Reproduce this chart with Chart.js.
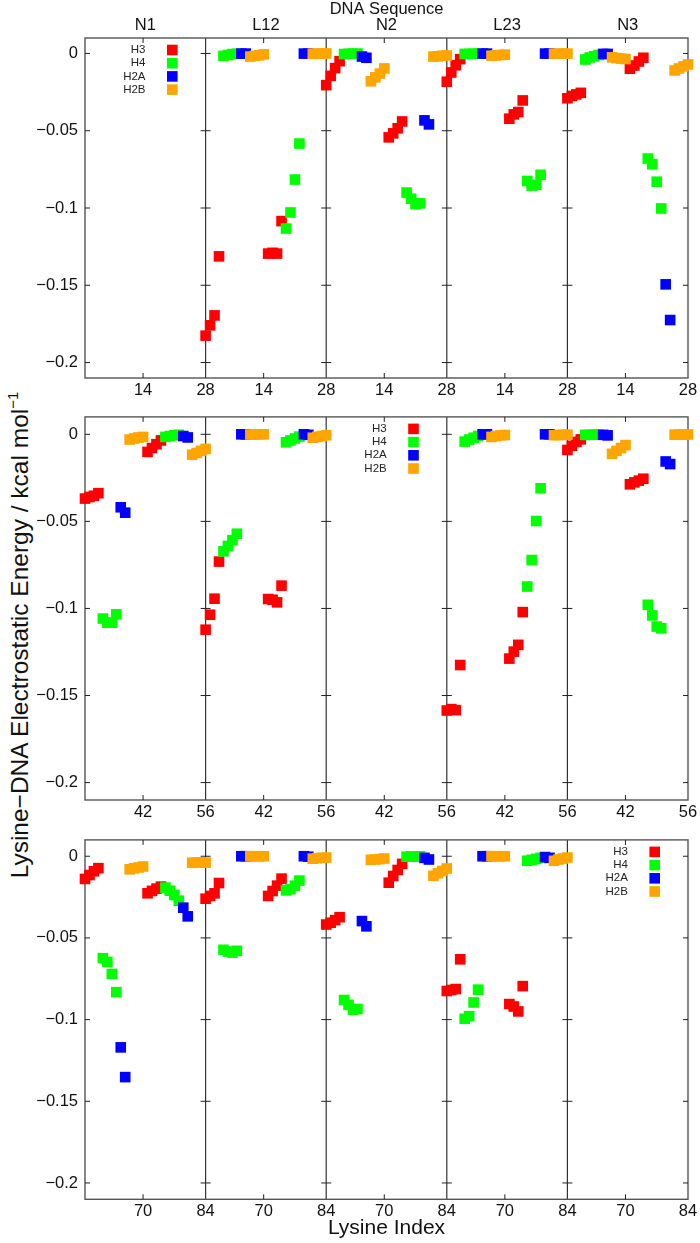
<!DOCTYPE html>
<html>
<head>
<meta charset="utf-8">
<script src="https://cdn.jsdelivr.net/npm/chart.js@4.4.0/dist/chart.umd.min.js"></script>
<style>
  body { margin: 0; background: #fff; width: 700px; height: 1243px; position: relative; overflow: hidden;
         font-family: "Liberation Sans", Arial, sans-serif; }
  .row { position: absolute; left: 0; width: 700px; }
  #ytitle { position: absolute; left: 20px; top: 635px; transform: translate(-50%, -50%) rotate(-90deg);
            white-space: nowrap; font-size: 24.5px; color: #111; }
  #ytitle sup { font-size: 15px; vertical-align: 10px; line-height: 0; }
</style>
</head>
<body>
<div id="ytitle">Lysine&minus;DNA Electrostatic Energy / kcal mol<sup>&minus;1</sup></div>
<script>
const regions = ['N1', 'L12', 'N2', 'L23', 'N3'];
const rowStarts = [1, 29, 57];            // first lysine of each row of panels
const legendRegion = ['N1', 'N2', 'N3'];  // empty panel that holds the key
const yTicks = [0, -0.05, -0.1, -0.15, -0.2];
const seriesNames = ['H3', 'H4', 'H2A', 'H2B'];
const seriesColors = ['#ff0000', '#00ff00', '#0000ff', '#ffa500'];

// [region, first lysine, energies of consecutive lysines]
const H3 = [
  ['L12', 1, [-0.1826, -0.1759, -0.1695, -0.1313]], ['L12', 15, [-0.1295, -0.129, -0.1295, -0.1085]],
  ['N2', 1, [-0.0205, -0.0145, -0.0095, -0.005]], ['N2', 15, [-0.0543, -0.0517, -0.0484, -0.044]],
  ['L23', 1, [-0.0183, -0.0123, -0.0076, -0.0037]], ['L23', 15, [-0.0422, -0.0394, -0.0379, -0.0304]],
  ['N3', 1, [-0.029, -0.0275, -0.0265, -0.0255]], ['N3', 15, [-0.0099, -0.0078, -0.0052, -0.0028]],
  ['N1', 29, [-0.0369, -0.036, -0.0353, -0.0338]], ['N1', 43, [-0.0101, -0.0079, -0.0057, -0.0035]],
  ['L12', 29, [-0.1122, -0.1036, -0.0944, -0.0731]], ['L12', 43, [-0.0946, -0.095, -0.0965, -0.0869]],
  ['L23', 29, [-0.1586, -0.1578, -0.1584, -0.1325]], ['L23', 43, [-0.1288, -0.1248, -0.1209, -0.1021]],
  ['N3', 29, [-0.009, -0.0066, -0.0044, -0.0029]], ['N3', 43, [-0.0287, -0.0276, -0.0266, -0.0255]],
  ['N1', 57, [-0.0139, -0.0115, -0.0092, -0.0073]], ['N1', 71, [-0.0227, -0.0212, -0.0198, -0.0186]],
  ['L12', 57, [-0.026, -0.0243, -0.0227, -0.0164]], ['L12', 71, [-0.0243, -0.0213, -0.018, -0.0137]],
  ['N2', 57, [-0.0418, -0.0407, -0.0391, -0.0373]], ['N2', 71, [-0.0162, -0.0121, -0.0084, -0.0047]],
  ['L23', 57, [-0.0825, -0.0819, -0.0813, -0.0631]], ['L23', 71, [-0.0905, -0.092, -0.095, -0.0795]]
];
const H4 = [
  ['L12', 5, [-0.0016, -0.001, -0.0004, -0.0002]], ['L12', 19, [-0.1133, -0.1029, -0.0816, -0.0583]],
  ['N2', 5, [-0.0004, -0.0002, -0.0001, -0.0001]], ['N2', 19, [-0.09, -0.094, -0.0975, -0.097]],
  ['L23', 5, [-0.0003, -0.0003, -0.0002, -0.0001]], ['L23', 19, [-0.0825, -0.0855, -0.085, -0.0785]],
  ['N3', 5, [-0.0039, -0.0026, -0.0018, -0.001]], ['N3', 19, [-0.068, -0.0717, -0.083, -0.1003]],
  ['N1', 33, [-0.1058, -0.1082, -0.1082, -0.1034]], ['N1', 47, [-0.0015, -0.001, -0.0005, -0.0003]],
  ['L12', 33, [-0.0672, -0.0641, -0.0608, -0.0571]], ['L12', 47, [-0.0046, -0.0035, -0.0024, -0.0013]],
  ['L23', 33, [-0.0042, -0.003, -0.002, -0.001]], ['L23', 47, [-0.0874, -0.0722, -0.0498, -0.031]],
  ['N3', 33, [-0.0003, -0.0003, -0.0002, -0.0002]], ['N3', 47, [-0.0979, -0.104, -0.1104, -0.1114]],
  ['N1', 61, [-0.0624, -0.0647, -0.0721, -0.0832]], ['N1', 75, [-0.0192, -0.0211, -0.0237, -0.0272]],
  ['L12', 61, [-0.0573, -0.0584, -0.059, -0.0579]], ['L12', 75, [-0.0209, -0.0202, -0.018, -0.0149]],
  ['N2', 61, [-0.088, -0.091, -0.094, -0.0935]], ['N2', 75, [-0.0003, -0.0002, -0.0001, -0.0001]],
  ['L23', 61, [-0.0995, -0.0979, -0.0895, -0.0817]], ['L23', 75, [-0.0028, -0.0022, -0.0016, -0.001]]
];
const H2A = [
  ['L12', 9, [-0.0001, -0.0001]], ['L12', 23, [-0.0001, -0.0001]],
  ['N2', 9, [-0.002, -0.0028]], ['N2', 23, [-0.0433, -0.0459]],
  ['L23', 9, [-0.0001, -0.0001]], ['L23', 23, [-0.0001, -0.0001]],
  ['N3', 9, [-0.0003, -0.0003]], ['N3', 23, [-0.1494, -0.1725]],
  ['N1', 37, [-0.0419, -0.045]], ['N1', 51, [-0.001, -0.0018]],
  ['L12', 37, [0, 0]], ['L12', 51, [0, -0.0003]],
  ['L23', 37, [0, 0]], ['L23', 51, [0, 0]],
  ['N3', 37, [-0.0003, -0.0006]], ['N3', 51, [-0.0156, -0.0171]],
  ['N1', 65, [-0.117, -0.1352]], ['N1', 79, [-0.0315, -0.0368]],
  ['L12', 65, [0, 0]], ['L12', 79, [0, -0.0003]],
  ['N2', 65, [-0.0397, -0.0429]], ['N2', 79, [-0.001, -0.002]],
  ['L23', 65, [0, 0]], ['L23', 79, [-0.0005, -0.001]]
];
const H2B = [
  ['L12', 11, [-0.002, -0.0016, -0.0012, -0.0006]], ['L12', 25, [-0.0002, -0.0001, -0.0001, 0]],
  ['N2', 11, [-0.018, -0.0155, -0.013, -0.0097]], ['N2', 25, [-0.002, -0.0018, -0.0015, -0.0013]],
  ['L23', 11, [-0.0015, -0.0012, -0.001, -0.0008]], ['L23', 25, [-0.0002, -0.0002, -0.0001, -0.0001]],
  ['N3', 11, [-0.0025, -0.003, -0.0033, -0.0036]], ['N3', 25, [-0.011, -0.0097, -0.0084, -0.0071]],
  ['N1', 39, [-0.003, -0.0024, -0.0018, -0.0015]], ['N1', 53, [-0.0117, -0.0107, -0.0095, -0.0084]],
  ['L12', 39, [-0.0001, -0.0001, 0, 0]], ['L12', 53, [-0.002, -0.0015, -0.001, -0.0005]],
  ['L23', 39, [-0.0015, -0.001, -0.0006, -0.0004]], ['L23', 53, [-0.0005, -0.0004, -0.0003, -0.0002]],
  ['N3', 39, [-0.0112, -0.0095, -0.0079, -0.0062]], ['N3', 53, [-0.0002, -0.0002, -0.0001, -0.0001]],
  ['N1', 67, [-0.008, -0.0074, -0.0069, -0.0063]], ['N1', 81, [-0.004, -0.0038, -0.0037, -0.0039]],
  ['L12', 67, [0, 0, 0, 0]], ['L12', 81, [-0.0015, -0.0012, -0.001, -0.0008]],
  ['N2', 67, [-0.0022, -0.002, -0.0017, -0.0014]], ['N2', 81, [-0.012, -0.0104, -0.009, -0.0075]],
  ['L23', 67, [0, 0, 0, 0]], ['L23', 81, [-0.0028, -0.002, -0.0014, -0.0008]]
];
const seriesData = [H3, H4, H2A, H2B];

Chart.defaults.font.family = '"Liberation Sans", Arial, sans-serif';
Chart.defaults.color = '#111';

const PANEL = 27;  // lysine steps per panel
const rowBoxes = [
  { top: 0, height: 400, padTop: 0, xAxisH: 22 },
  { top: 400, height: 423, padTop: 1, xAxisH: 23 },
  { top: 823, height: 420, padTop: 1.3, xAxisH: 43.7 }
];

function rowPoints(runs, row) {
  const pts = [];
  runs.forEach(([reg, first, vals]) => {
    vals.forEach((e, i) => {
      const lys = first + i;
      if (Math.floor((lys - 1) / 28) !== row) return;
      pts.push({ x: regions.indexOf(reg) * PANEL + (lys - rowStarts[row]), y: e });
    });
  });
  return pts;
}

// frame, panel dividers, tick marks and the key
const panelFrame = {
  id: 'panelFrame',
  beforeDatasetsDraw(chart) {
    const { ctx, chartArea: a, scales: { x, y } } = chart;
    const seg = (x1, y1, x2, y2) => { ctx.beginPath(); ctx.moveTo(x1, y1); ctx.lineTo(x2, y2); ctx.stroke(); };
    ctx.save();
    ctx.strokeStyle = '#333';
    ctx.lineWidth = 1.2;
    for (let k = 1; k < regions.length; k++) {
      const px = x.getPixelForValue(k * PANEL);
      seg(px, a.top, px, a.bottom);
    }
    ctx.strokeStyle = '#555';
    ctx.lineWidth = 1.4;
    ctx.strokeRect(a.left, a.top, a.right - a.left, a.bottom - a.top);
    ctx.strokeStyle = '#222';
    ctx.lineWidth = 1;
    yTicks.forEach(v => {
      const py = y.getPixelForValue(v);
      seg(a.left, py, a.left + 5, py);
      seg(a.right - 5, py, a.right, py);
      for (let k = 1; k < regions.length; k++) {
        const px = x.getPixelForValue(k * PANEL);
        seg(px - 5, py, px + 5, py);
      }
    });
    for (let k = 0; k < regions.length; k++) {
      const px = x.getPixelForValue(k * PANEL + 13);
      seg(px, a.bottom, px, a.bottom - 5);
      seg(px, a.top, px, a.top + 5);
    }
    ctx.restore();
  },
  afterDatasetsDraw(chart, args, opts) {
    const { ctx, chartArea: a, scales: { x } } = chart;
    const left = x.getPixelForValue(regions.indexOf(opts.region) * PANEL);
    ctx.save();
    ctx.font = '11.5px "Liberation Sans", Arial, sans-serif';
    ctx.textAlign = 'right';
    ctx.textBaseline = 'middle';
    seriesNames.forEach((name, i) => {
      const cy = a.top + 12 + i * 13.2;
      ctx.fillStyle = '#222';
      ctx.fillText(name, left + 60.5, cy);
      ctx.fillStyle = seriesColors[i];
      ctx.fillRect(left + 87.3 - 5.3, cy - 5.3, 10.6, 10.6);
    });
    ctx.restore();
  }
};

rowBoxes.forEach((box, row) => {
  const holder = document.createElement('div');
  holder.className = 'row';
  holder.style.top = box.top + 'px';
  holder.style.height = box.height + 'px';
  const canvas = document.createElement('canvas');
  holder.appendChild(canvas);
  document.body.appendChild(holder);

  const xTickValues = [];
  for (let k = 0; k < regions.length; k++) xTickValues.push(k * PANEL + 13, (k + 1) * PANEL);

  const scales = {
    x: {
      type: 'linear', position: 'bottom', min: 0, max: regions.length * PANEL,
      grid: { display: false, drawTicks: false }, border: { display: false },
      afterBuildTicks: s => { s.ticks = xTickValues.map(v => ({ value: v })); },
      afterFit: s => { s.height = box.xAxisH; },
      ticks: {
        autoSkip: false, maxRotation: 0, padding: 2.5, font: { size: 16.5 },
        callback: v => String(rowStarts[row] + (v % PANEL === 0 ? PANEL : v % PANEL))
      },
      title: {
        display: row === 2, text: 'Lysine Index', font: { size: 21 },
        padding: { top: 0, bottom: 2.4 }
      }
    },
    y: {
      min: -0.21, max: 0.01,
      grid: { display: false, drawTicks: false }, border: { display: false },
      afterBuildTicks: s => { s.ticks = yTicks.map(v => ({ value: v })); },
      afterFit: s => { s.width = 85; },
      ticks: {
        padding: 7, font: { size: 16.5 },
        callback: v => (v === 0 ? '0' : '\u2212' + Math.abs(v))
      }
    }
  };
  if (row === 0) {
    scales.xTop = {
      type: 'linear', axis: 'x', position: 'top', min: 0, max: regions.length * PANEL,
      grid: { display: false, drawTicks: false }, border: { display: false },
      afterBuildTicks: s => { s.ticks = regions.map((r, i) => ({ value: i * PANEL + PANEL / 2 })); },
      afterFit: s => { s.height = 38; },
      ticks: { autoSkip: false, maxRotation: 0, padding: 2.3, font: { size: 16.5 }, callback: (v, i) => regions[i] },
      title: { display: true, text: 'DNA Sequence', font: { size: 16.5 }, padding: { top: 0, bottom: 0 } }
    };
  }

  new Chart(canvas, {
    type: 'scatter',
    data: {
      datasets: seriesNames.map((name, i) => ({
        label: name,
        data: rowPoints(seriesData[i], row),
        backgroundColor: seriesColors[i],
        borderWidth: 0,
        pointStyle: 'rect',
        pointRadius: 7.5,
        pointHoverRadius: 7.5,
        order: seriesNames.length - i,
        clip: false
      }))
    },
    options: {
      responsive: true,
      maintainAspectRatio: false,
      animation: false,
      layout: { padding: { left: 0, right: 12, top: box.padTop, bottom: 0 } },
      plugins: {
        legend: { display: false },
        tooltip: { enabled: false },
        panelFrame: { region: legendRegion[row] }
      },
      scales
    },
    plugins: [panelFrame]
  });
});
</script>
</body>
</html>
